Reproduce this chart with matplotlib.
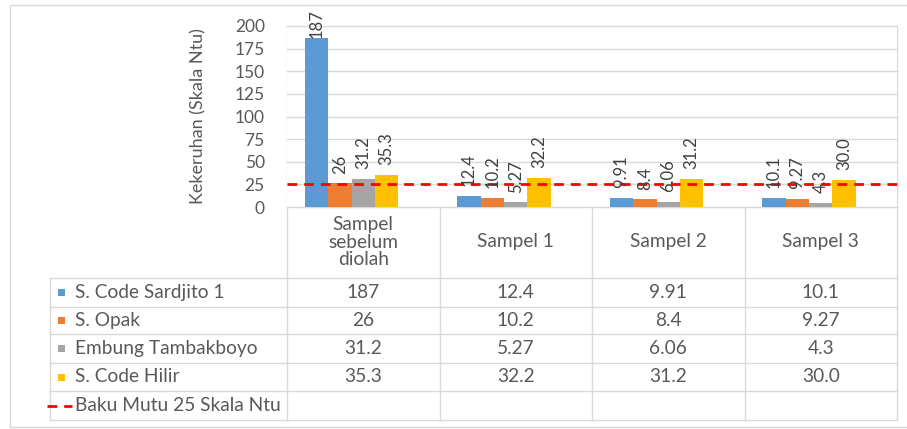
import matplotlib
matplotlib.use("Agg")
import matplotlib.pyplot as plt
from matplotlib.patches import Rectangle
from matplotlib.lines import Line2D
from matplotlib.transforms import blended_transform_factory
import numpy as np

plt.rcParams['font.family'] = ['Lato', 'DejaVu Sans']

# ---- data ----
categories = ["Sampel\nsebelum\ndiolah", "Sampel 1", "Sampel 2", "Sampel 3"]
series_names = ["S. Code Sardjito 1", "S. Opak", "Embung Tambakboyo", "S. Code Hilir"]
sardjito = ["187", "12.4", "9.91", "10.1"]
opak = ["26", "10.2", "8.4", "9.27"]
tambakboyo = ["31.2", "5.27", "6.06", "4.3"]
hilir = ["35.3", "32.2", "31.2", "30.0"]
series_text = [sardjito, opak, tambakboyo, hilir]
colors = ["#5B9BD5", "#ED7D31", "#A5A5A5", "#FFC000"]
baku_mutu = 25
baku_label = "Baku Mutu 25 Skala Ntu"
yticks = list(range(0, 201, 25))

W, H = 907, 429
fig = plt.figure(figsize=(W / 100, H / 100), dpi=100)


def fx(px):
    return px / W


def fy(py):
    return 1 - py / H


grid_c = "#d9d9d9"
text_c = "#595959"
label_c = "#404040"
tab_fs = 13.8

left_px, right_px, top_px, bot_px = 287, 897, 26, 207
ax = fig.add_axes([fx(left_px), fy(bot_px), fx(right_px) - fx(left_px), fy(top_px) - fy(bot_px)])
ax.set_xlim(-0.5, len(categories) - 0.5)
ax.set_ylim(0, 200)
ax.set_yticks(yticks)
ax.set_yticklabels([str(t) for t in yticks], fontsize=12.5, color=text_c)
ax.set_xticks([])
ax.tick_params(axis='y', length=0, pad=16)
for s in ax.spines.values():
    s.set_visible(False)
ax.yaxis.grid(True, color=grid_c, lw=1)
for gl in ax.get_ygridlines():
    gl.set_clip_on(False)
ax.set_axisbelow(True)
ax.set_ylabel("Kekeruhan (Skala Ntu)", fontsize=13, color=text_c, labelpad=20)

# bars: five slots per group, fifth slot left for the reference line series
bw = 0.154
x = np.arange(len(categories))
for i, (vals, col) in enumerate(zip(series_text, colors)):
    heights = [float(v) for v in vals]
    pos = x + (i - 2) * bw
    ax.bar(pos, heights, width=bw, color=col, zorder=2)
    for px_, h, txt in zip(pos, heights, vals):
        off = 7 if h < 0.8 * 200 else 0
        ax.annotate(txt, (px_, h), xytext=(0, off), textcoords='offset points',
                    rotation=90, ha='center', va='bottom', fontsize=12,
                    color=label_c, annotation_clip=False, zorder=4)

ax.axhline(baku_mutu, color="#FF0000", lw=2, ls=(0, (3.5, 2.5)), zorder=3, clip_on=False)

# ---- data table ----
row_lines = [278, 307, 334, 363, 391, 420]
tab_left = 50
blend = blended_transform_factory(ax.transData, fig.transFigure)

# vertical separators across plot and table
for b in np.arange(-0.5, len(categories), 1.0):
    fig.add_artist(Line2D([b, b], [fy(top_px), fy(row_lines[-1])], transform=blend,
                          color=grid_c, lw=1, zorder=0))
# horizontal table lines
for r in row_lines:
    fig.add_artist(Line2D([fx(tab_left), fx(right_px)], [fy(r), fy(r)], color=grid_c, lw=1))
fig.add_artist(Line2D([fx(tab_left), fx(tab_left)], [fy(row_lines[0]), fy(row_lines[-1])],
                      color=grid_c, lw=1))

# category labels
for xi, cat in zip(x, categories):
    fig.text(xi, fy(242), cat, transform=blend, ha='center', va='center',
             fontsize=tab_fs, color=text_c, linespacing=1.05)

# rows
for k, (name, vals, col) in enumerate(zip(series_names, series_text, colors)):
    yc = (row_lines[k] + row_lines[k + 1]) / 2
    fig.add_artist(Rectangle((fx(58), fy(yc + 3.5)), fx(7), 7 / H, color=col, lw=0))
    fig.text(fx(75), fy(yc), name, ha='left', va='center', fontsize=tab_fs, color=text_c)
    for xi, v in zip(x, vals):
        fig.text(xi, fy(yc), v, transform=blend, ha='center', va='center',
                 fontsize=tab_fs, color=text_c)

yc = (row_lines[4] + row_lines[5]) / 2
fig.add_artist(Line2D([fx(47), fx(72)], [fy(yc), fy(yc)], color="#FF0000", lw=2,
                      ls=(0, (3.5, 2.5))))
fig.text(fx(75), fy(yc), baku_label, ha='left', va='center', fontsize=tab_fs, color=text_c)

# chart area border
fig.add_artist(Rectangle((fx(10), fy(427)), fx(905), (427 - 5) / H, fill=False,
                         edgecolor=grid_c, lw=1))

fig.savefig("out.png", dpi=100)
